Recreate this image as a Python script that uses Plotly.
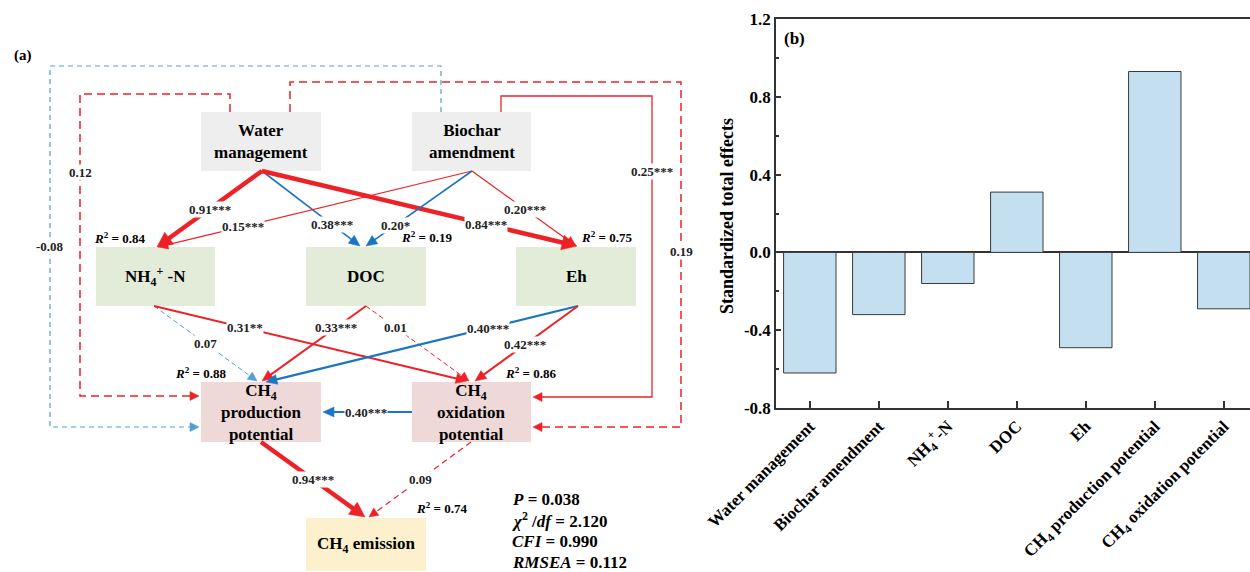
import math
import plotly.graph_objects as go

# ------------------------------------------------------------------
# Panel (b) data: standardized total effects on CH4 emission
# ------------------------------------------------------------------
categories = ["Water management", "Biochar amendment", "NH4+-N", "DOC", "Eh",
              "CH4 production potential", "CH4 oxidation potential"]
tick_labels = ["Water management", "Biochar amendment", "NH<sub>4</sub><sup>+</sup>-N", "DOC", "Eh",
               "CH<sub>4</sub> production potential", "CH<sub>4</sub> oxidation potential"]
total_effects = [-0.62, -0.32, -0.16, 0.31, -0.49, 0.93, -0.29]
y_ticks = [-0.8, -0.4, 0.0, 0.4, 0.8, 1.2]
y_minor_ticks = [-0.6, -0.2, 0.2, 0.6, 1.0]

# ------------------------------------------------------------------
# Panel (a) data: structural equation model
# ------------------------------------------------------------------
node_ids = ["WM", "BA", "NH4", "DOC", "Eh", "PROD", "OX", "EM"]
node_text = ["Water<br>management", "Biochar<br>amendment", "NH<sub>4</sub><sup>+</sup> -N", "DOC", "Eh",
             "CH<sub>4</sub><br>production<br>potential", "CH<sub>4</sub><br>oxidation<br>potential",
             "CH<sub>4</sub> emission"]
path_from = ["WM", "WM", "WM", "BA", "BA", "BA", "BA", "WM", "WM", "BA",
             "NH4", "NH4", "DOC", "DOC", "Eh", "Eh", "OX", "PROD", "OX"]
path_to = ["NH4", "DOC", "Eh", "NH4", "DOC", "Eh", "OX", "OX", "PROD", "PROD",
           "PROD", "OX", "PROD", "OX", "PROD", "OX", "PROD", "EM", "EM"]
path_coef = ["0.91***", "0.38***", "0.84***", "0.15***", "0.20*", "0.20***", "0.25***", "0.19", "0.12", "-0.08",
             "0.07", "0.31**", "0.33***", "0.01", "0.40***", "0.42***", "0.40***", "0.94***", "0.09"]
path_sign = [1, -1, 1, 1, -1, 1, 1, 1, 1, -1, -1, 1, 1, 1, -1, 1, -1, 1, 1]
path_signif = [True, True, True, True, True, True, True, False, False, False,
               False, True, True, False, True, True, True, True, False]
r2_nodes = ["NH4", "DOC", "Eh", "PROD", "OX", "EM"]
r2_values = ["0.84", "0.19", "0.75", "0.88", "0.86", "0.74"]
fit_names = ["<i>P</i>", "<i>χ</i><sup>2</sup> /<i>df</i>", "<i>CFI</i>", "<i>RMSEA</i>"]
fit_values = ["0.038", "2.120", "0.990", "0.112"]

# ------------------------------------------------------------------
# Diagram layout (pixel coordinates of the canvas)
# ------------------------------------------------------------------
W, H = 1250, 572
SERIF = "Liberation Serif, Times New Roman, serif"
RED = "#ec2227"
BLUE = "#1b75c2"
LBLUE = "#4f9fd6"

boxes = {
    "WM": (201, 112, 321, 171, "#eeeeee"),
    "BA": (412, 112, 531, 171, "#eeeeee"),
    "NH4": (96, 247, 215, 306, "#e3ecd9"),
    "DOC": (306, 247, 426, 306, "#e3ecd9"),
    "Eh": (516, 247, 636, 306, "#e3ecd9"),
    "PROD": (201, 382, 321, 442, "#efd9d8"),
    "OX": (412, 382, 531, 442, "#efd9d8"),
    "EM": (306, 518, 426, 571, "#fdf0cc"),
}

routes = [
    [(262, 171), (157, 247)],
    [(262, 171), (360, 246)],
    [(262, 171), (577, 246)],
    [(472, 171), (158, 247)],
    [(472, 171), (366, 246)],
    [(472, 171), (576, 246)],
    [(501, 112), (501, 96), (652, 96), (652, 397), (533, 397)],
    [(290, 112), (290, 82), (681, 82), (681, 427), (533, 427)],
    [(230, 112), (230, 94), (80, 94), (80, 396), (199, 396)],
    [(441, 112), (441, 66), (50, 66), (50, 427), (199, 427)],
    [(154, 306), (257, 381)],
    [(154, 306), (467, 381)],
    [(366, 306), (262, 381)],
    [(366, 306), (469, 381)],
    [(578, 306), (266, 382)],
    [(578, 306), (475, 381)],
    [(412, 412), (323, 412)],
    [(261, 442), (365, 517)],
    [(471, 442), (369, 517)],
]
label_at = [(0, 0.5), (0, 0.71), (0, 0.71), (0, 0.73), (0, 0.72), (0, 0.51), (2, 0.25), (2, 0.49),
            (2, 0.26), (2, 0.5), (0, 0.5), (0, 0.29), (0, 0.29), (0, 0.29), (0, 0.29), (0, 0.51),
            (0, 0.52), (0, 0.5), (0, 0.5)]
# line width, dash, arrow length, arrow half width
styles = [
    (4.5, None, 15, 7.5), (1.6, None, 11, 5), (4.5, None, 15, 7.5),
    (1.2, None, 10, 4.5), (1.6, None, 11, 5), (1.2, None, 10, 4.5),
    (1.3, None, 9, 4.5), (1.5, "8px,5px", 9, 4.5), (1.5, "8px,5px", 9, 4.5), (1.2, "5px,4px", 9, 4.5),
    (1.0, "5px,3px", 9, 4.5), (2.0, None, 11, 5), (2.0, None, 11, 5), (1.0, "5px,3px", 9, 4.5),
    (2.2, None, 11, 5), (2.0, None, 11, 5), (2.2, None, 11, 5), (4.5, None, 15, 7.5),
    (1.2, "6px,4px", 9, 4.5),
]
r2_pos = {"NH4": (119, 238), "DOC": (426, 237), "Eh": (606, 237),
          "PROD": (200, 373), "OX": (530, 373), "EM": (441, 508)}

shapes = []
annotations = []


def ref(d):
    d.update(xref="x2", yref="y2")
    return d


# boxes
for nid, txt in zip(node_ids, node_text):
    x0, y0, x1, y1, fill = boxes[nid]
    shapes.append(ref(dict(type="rect", x0=x0, y0=y0, x1=x1, y1=y1, fillcolor=fill,
                           line=dict(width=0), layer="below")))
    annotations.append(ref(dict(x=(x0 + x1) / 2, y=(y0 + y1) / 2, text="<b>" + txt + "</b>", showarrow=False,
                                font=dict(family=SERIF, size=17, color="black"))))

# paths
for i in range(len(path_coef)):
    pts = routes[i]
    color = (RED if path_sign[i] > 0 else (BLUE if path_signif[i] else LBLUE))
    lw, dash, hl, hw = styles[i]
    tip = pts[-1]
    prev = pts[-2]
    dx, dy = tip[0] - prev[0], tip[1] - prev[1]
    L = math.hypot(dx, dy)
    ux, uy = dx / L, dy / L
    base = (tip[0] - hl * ux, tip[1] - hl * uy)
    line_pts = pts[:-1] + [(base[0] + 1.0 * ux, base[1] + 1.0 * uy)]
    path = "M " + " L ".join(f"{p[0]:.2f},{p[1]:.2f}" for p in line_pts)
    ln = dict(color=color, width=lw)
    if dash:
        ln["dash"] = dash
    shapes.append(ref(dict(type="path", path=path, line=ln, fillcolor="rgba(0,0,0,0)")))
    nx, ny = -uy, ux
    tri = (f"M {tip[0]:.2f},{tip[1]:.2f} L {base[0] + hw * nx:.2f},{base[1] + hw * ny:.2f} "
           f"L {base[0] - hw * nx:.2f},{base[1] - hw * ny:.2f} Z")
    shapes.append(ref(dict(type="path", path=tri, fillcolor=color, line=dict(color=color, width=0.5))))
    seg, t = label_at[i]
    a, b = pts[seg], pts[seg + 1]
    lx, ly = a[0] + t * (b[0] - a[0]), a[1] + t * (b[1] - a[1])
    annotations.append(ref(dict(x=lx, y=ly, text="<b>" + path_coef[i] + "</b>", showarrow=False,
                                bgcolor="white", borderpad=0,
                                font=dict(family=SERIF, size=13, color="#222"))))

# R2 labels
for nid, val in zip(r2_nodes, r2_values):
    x, y = r2_pos[nid]
    annotations.append(ref(dict(x=x, y=y, text="<b><i>R</i><sup>2</sup> = " + val + "</b>", showarrow=False,
                                font=dict(family=SERIF, size=13, color="black"))))

# fit statistics
for k, (nm, val) in enumerate(zip(fit_names, fit_values)):
    annotations.append(ref(dict(x=510, y=499 + 21 * k, text="<b>" + nm + " = " + val + "</b>", showarrow=False,
                                xanchor="left", font=dict(family=SERIF, size=17, color="black"))))

annotations.append(ref(dict(x=12, y=55, text="<b>(a)</b>", showarrow=False, xanchor="left",
                            font=dict(family=SERIF, size=15, color="black"))))
annotations.append(ref(dict(x=782, y=38, text="<b>(b)</b>", showarrow=False, xanchor="left",
                            font=dict(family=SERIF, size=17, color="black"))))
# y-axis title of panel (b)
annotations.append(ref(dict(x=727, y=216, text="<b>Standardized total effects</b>", showarrow=False,
                            textangle=-90, font=dict(family=SERIF, size=18, color="black"))))

# ------------------------------------------------------------------
# Figure
# ------------------------------------------------------------------
fig = go.Figure()
fig.add_trace(go.Bar(x=categories, y=total_effects, width=0.76,
                     marker=dict(color="#c3dff0", line=dict(color="#3a3a3a", width=1)),
                     hoverinfo="x+y", xaxis="x", yaxis="y"))
fig.add_trace(go.Scatter(x=[None], y=[None], xaxis="x2", yaxis="y2", hoverinfo="skip", showlegend=False))

AX = "#333333"
fig.update_layout(
    width=W, height=H,
    margin=dict(l=0, r=0, t=0, b=0, pad=0),
    paper_bgcolor="white", plot_bgcolor="rgba(0,0,0,0)",
    showlegend=False,
    xaxis=dict(domain=[776 / W, 1.0], type="category", range=[-0.49, 6.38], automargin=False,
               tickmode="array", tickvals=categories, ticktext=tick_labels,
               tickangle=-45, ticks="inside", ticklen=7, tickwidth=1.5, tickcolor=AX,
               showline=True, linecolor=AX, linewidth=1.5, mirror=True, showgrid=False,
               tickfont=dict(family=SERIF, size=17, color="black", weight="bold")),
    yaxis=dict(domain=[1 - 408 / H, 1 - 19 / H], range=[-0.8, 1.2], automargin=False,
               tickmode="array", tickvals=y_ticks, ticktext=[f"{v:.1f}" for v in y_ticks],
               ticks="inside", ticklen=5, tickwidth=1.5, tickcolor=AX,
               minor=dict(tickvals=y_minor_ticks, ticks="inside", ticklen=3,
                          tickwidth=1.5, tickcolor=AX, showgrid=False),
               showline=True, linecolor=AX, linewidth=1.5, mirror=False, showgrid=False,
               zeroline=True, zerolinecolor=AX, zerolinewidth=1.5,
               tickfont=dict(family=SERIF, size=17, color="black", weight="bold")),
    xaxis2=dict(domain=[0, 1], range=[0, W], visible=False, fixedrange=True, anchor="y2",
                automargin=False),
    yaxis2=dict(domain=[0, 1], range=[H, 0], visible=False, fixedrange=True, anchor="x2",
                automargin=False),
    shapes=shapes,
    annotations=annotations,
)

fig.write_html("out.html", config={"displayModeBar": False},
               post_script="document.body.style.margin='0px';document.body.style.overflow='hidden';")
